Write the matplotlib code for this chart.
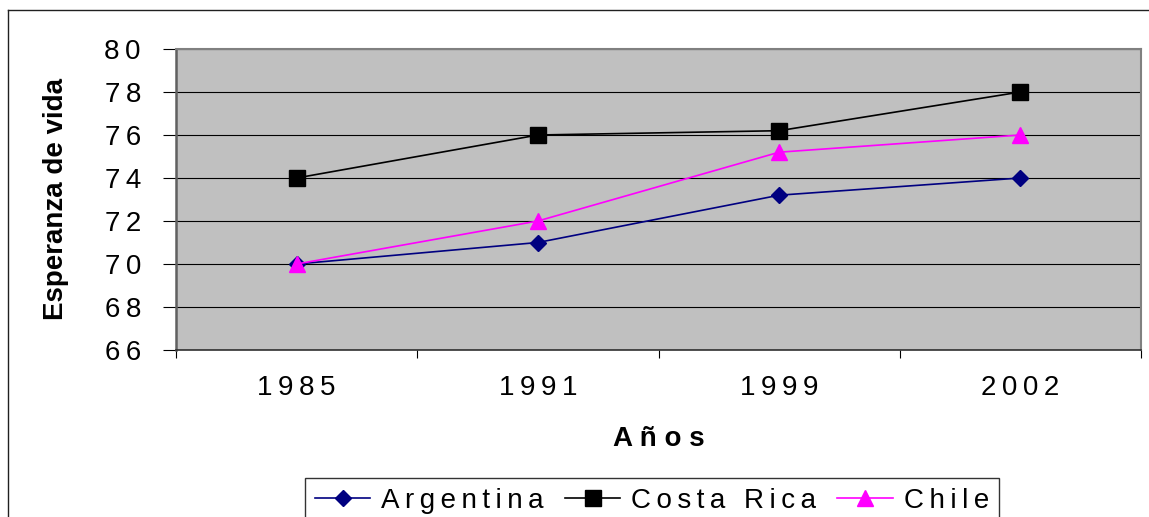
import matplotlib
matplotlib.use('Agg')
import matplotlib.pyplot as plt
from matplotlib.lines import Line2D

plt.rcParams['font.family'] = ['Liberation Sans', 'DejaVu Sans']

years = ['1985', '1991', '1999', '2002']
y_ticks = [66, 68, 70, 72, 74, 76, 78, 80]

argentina = [70, 71, 73.2, 74]
costa_rica = [74, 76, 76.2, 78]
chile = [70, 72, 75.2, 76]

series = [
    ('Argentina', argentina, '#000080', 'D', 8.5),
    ('Costa Rica', costa_rica, '#000000', 's', 11.5),
    ('Chile', chile, '#FF00FF', '^', 11.5),
]

THIN = '\u2009'


def spaced(text, sep=THIN):
    return sep.join(list(text))


W, H = 1149, 517
PX = 72 / 100  # points per pixel at dpi 100
fig = plt.figure(figsize=(W / 100, H / 100), dpi=100)

# plot area like the excel chart
left, right, top, bottom = 176, 1141, 49, 350
ax = fig.add_axes([left / W, 1 - bottom / H, (right - left) / W, (bottom - top) / H])
ax.set_facecolor('#C0C0C0')

x = list(range(len(years)))
for name, vals, color, marker, ms in series:
    ax.plot(x, vals, color=color, lw=1.2, marker=marker, markersize=ms,
            markerfacecolor=color, markeredgecolor=color, label=spaced(name), zorder=3)

ax.set_xlim(-0.5, len(years) - 0.5)
ax.set_ylim(66, 80)
ax.set_yticks(y_ticks)
ax.set_yticklabels([spaced(str(t)) for t in y_ticks], fontsize=20)
ax.set_xticks(x)
ax.set_xticklabels([spaced(y) for y in years], fontsize=20)
ax.set_xticks([i - 0.5 for i in range(len(years) + 1)], minor=True)
ax.tick_params(axis='x', which='major', length=0, pad=25 * PX)
ax.tick_params(axis='x', which='minor', length=8 * PX, width=0.8, direction='out', color='black')
ax.tick_params(axis='y', length=13 * PX, width=0.8, pad=22 * PX, color='black')

ax.grid(axis='y', color='black', lw=0.8)
ax.set_axisbelow(True)
for s in ['top', 'right']:
    ax.spines[s].set_color('#808080')
    ax.spines[s].set_linewidth(1.5)
ax.spines['left'].set_color('#606060')
ax.spines['left'].set_linewidth(1.8)
ax.spines['bottom'].set_color('#303030')
ax.spines['bottom'].set_linewidth(1.2)

ax.set_ylabel('Esperanza de vida', fontsize=20, fontweight='bold')
ax.yaxis.set_label_coords(-0.111, 0.5)
ax.set_xlabel(spaced('Años', ' '), fontsize=20, fontweight='bold')
ax.xaxis.set_label_coords(0.5, -0.252)

leg = fig.legend(loc='upper left', bbox_to_anchor=(305 / W, 1 - 478 / H), ncol=3,
                 fontsize=20, frameon=True, fancybox=False, edgecolor='black',
                 handlelength=2.0, handletextpad=0.4, columnspacing=0.75,
                 borderpad=0.35, borderaxespad=0)
leg.get_frame().set_linewidth(1.0)

# outer chart border (partly cut off)
fig.add_artist(Line2D([8 / W, 8 / W], [0, 1 - 10 / H], color='#202020', lw=1.0))
fig.add_artist(Line2D([8 / W, 1], [1 - 10 / H, 1 - 10 / H], color='#202020', lw=1.0))

fig.savefig('out.png', dpi=100)
